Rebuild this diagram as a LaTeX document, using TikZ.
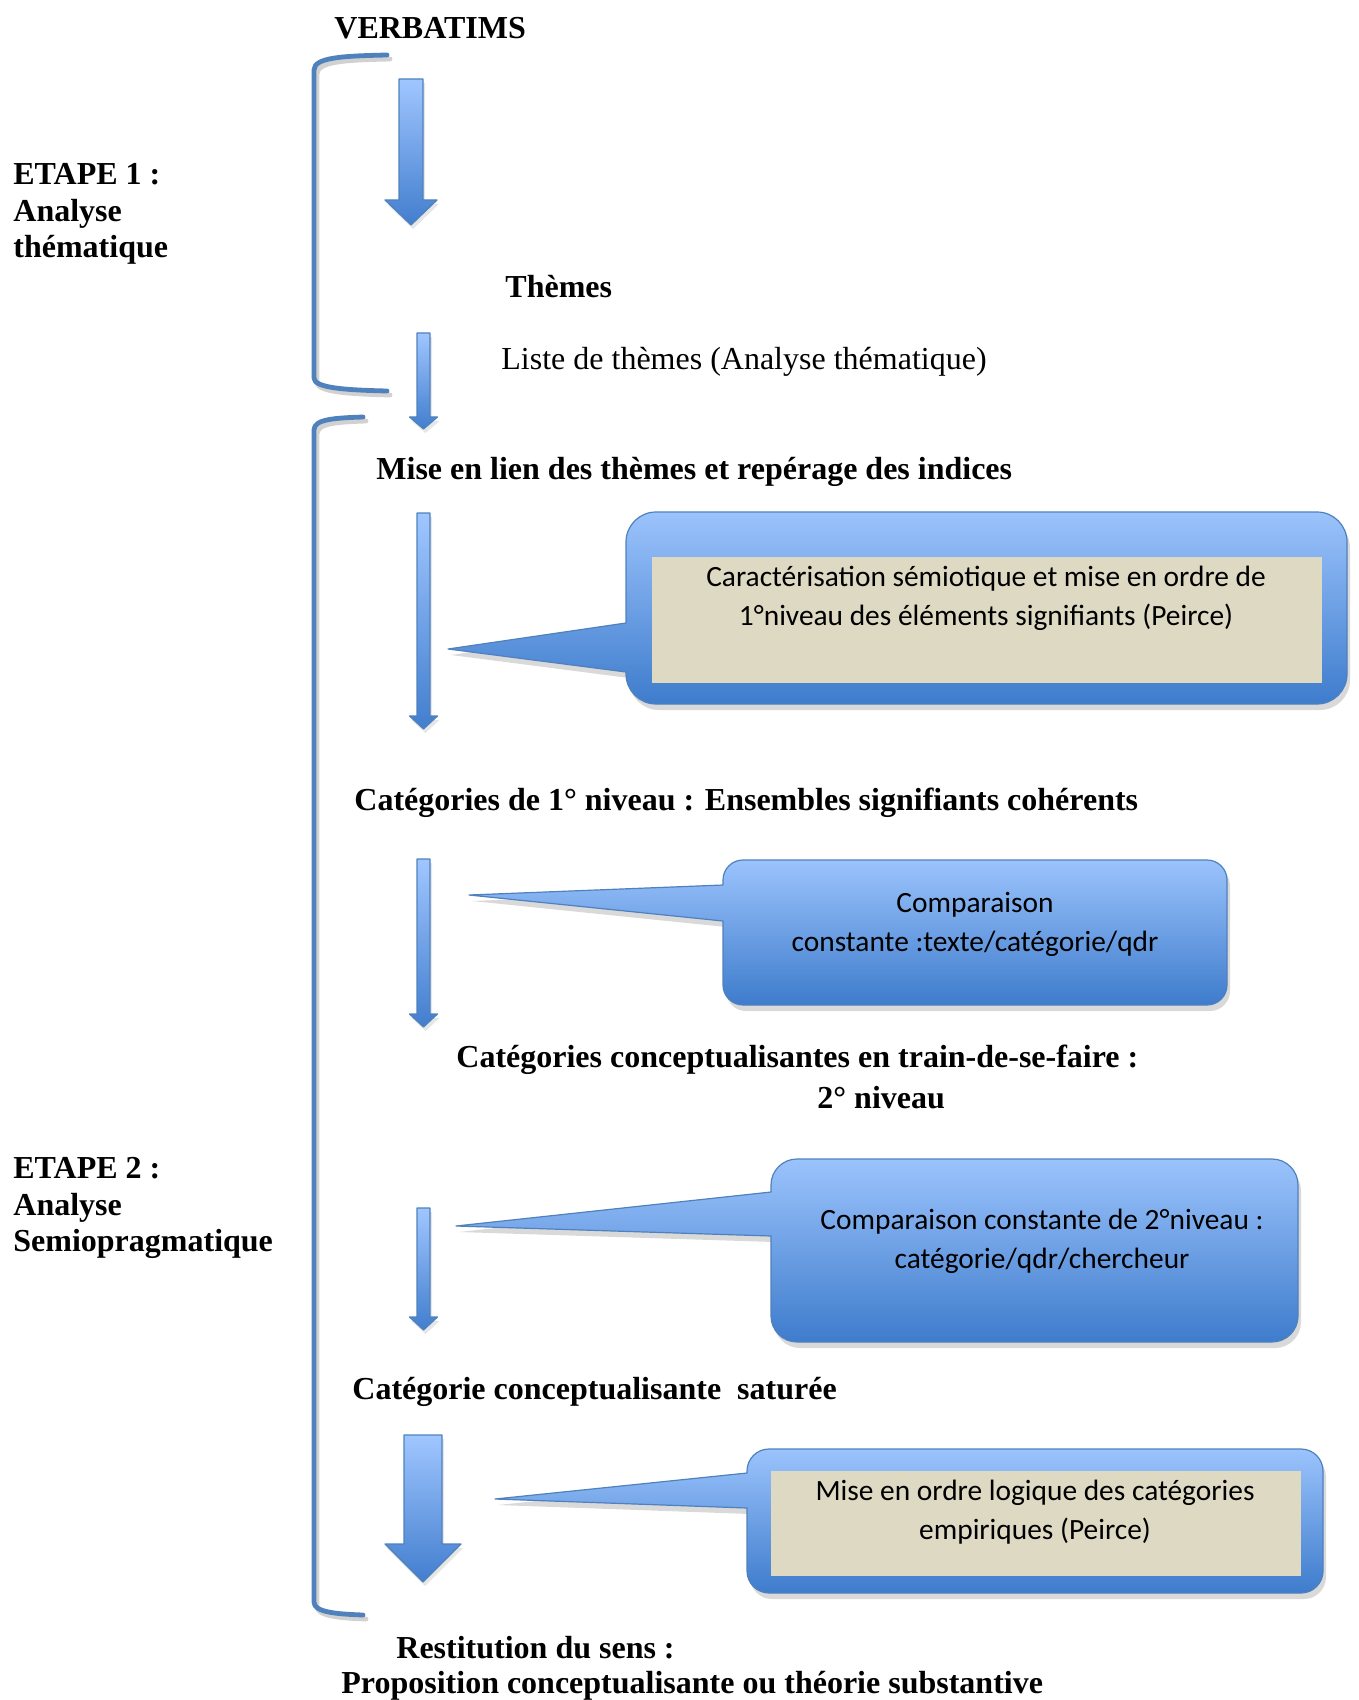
\documentclass[tikz,border=0pt]{standalone}
\usepackage{fontspec}
\setmainfont{Liberation Serif}
\newfontfamily\calibri{Carlito}
\usetikzlibrary{shadows}

\definecolor{brk}{RGB}{79,129,189}
\definecolor{flhaut}{RGB}{160,198,255}
\definecolor{flbas}{RGB}{66,126,206}
\definecolor{bhaut}{RGB}{155,195,252}
\definecolor{bbas}{RGB}{62,124,204}
\definecolor{beige}{RGB}{221,217,195}

\begin{document}
\begin{tikzpicture}[x=0.5pt, y=-0.5pt, line join=round,
    titre/.style={font=\bfseries\fontsize{16}{18.4}\selectfont, inner sep=0pt, anchor=west, align=left},
    ligne/.style={font=\fontsize{16}{18.4}\selectfont, inner sep=0pt, anchor=west},
    texte/.style={font=\calibri\fontsize{14.7}{19.5}\selectfont, align=center, inner sep=0pt},
    bulle/.style={draw=brk, line width=0.6pt, top color=bhaut, bottom color=bbas,
      drop shadow={opacity=0.3, shadow xshift=1.5pt, shadow yshift=-3pt}},
    fleche/.style={draw=brk, line width=0.6pt, top color=flhaut, bottom color=flbas,
      drop shadow={opacity=0.2, shadow xshift=1pt, shadow yshift=-2pt}},
    crochet/.style={draw=brk, line width=2.4pt, line cap=round},
    ombre/.style={draw=black, opacity=0.18, line width=2.4pt, line cap=round, xshift=1.5pt, yshift=-2pt}]
  \useasboundingbox (0,0) rectangle (1358,1700);

  % crochets des deux etapes
  \foreach \s in {ombre, crochet} {
    \draw[\s] (387,55) .. controls (345,56) and (314,57) .. (314,70) -- (314,378)
      .. controls (314,388) and (345,390) .. (387,391);
    \draw[\s] (363,417) .. controls (335,418) and (314,419) .. (314,430) -- (314,1602)
      .. controls (314,1612) and (335,1614) .. (363,1615);
  }

  % fleches (centre, demi-corps, demi-tete, haut, col, pointe)
  \foreach \x/\w/\hw/\t/\n/\p in {411/12/26/79/200/225, 423.5/6.5/14/333/417/429,
      423.5/6.5/14/513/716/729, 423.5/6.5/14/859/1014/1027,
      423.5/6.5/14/1208/1317/1330, 423/19/38/1435/1544/1582}
    \draw[fleche] (\x-\w,\t) -- (\x+\w,\t) -- (\x+\w,\n) -- (\x+\hw,\n) -- (\x,\p)
      -- (\x-\hw,\n) -- (\x-\w,\n) -- cycle;

  % bulles (gauche, droite, haut, bas, pointe x/y, base pointe, rayon)
  \foreach \g/\d/\h/\b/\px/\py/\pa/\pb/\r in {626/1347/512/704/448/649/623/672/15,
      723/1227/860/1005/469/895/885/921/10, 771/1298/1159/1342/456/1226/1192/1236/13,
      747/1323/1449/1593/495/1499/1473/1508/11}
    \draw[bulle] ({(\g+\d)/2},\h) [rounded corners=\r pt] -- (\d,\h) -- (\d,\b) -- (\g,\b)
      [sharp corners] -- (\g,\pb) -- (\px,\py) -- (\g,\pa)
      [rounded corners=\r pt] -- (\g,\h) -- cycle;
  \fill[beige] (652,557) rectangle (1322,683);
  \fill[beige] (771,1471) rectangle (1301,1576);

  \node[texte] (b1) at (986,598) {Caractérisation sémiotique et mise en ordre de\\1°niveau des éléments signifiants (Peirce)};
  \node[texte] (b2) at (975,924) {Comparaison\\constante :texte/catégorie/qdr};
  \node[texte] (b3) at (1042,1241) {Comparaison constante de 2°niveau :\\catégorie/qdr/chercheur};
  \node[texte] (b4) at (1035,1512) {Mise en ordre logique des catégories\\empiriques (Peirce)};

  \node[titre] (verb) at (334,28) {VERBATIMS};
  \node[titre] (etape1) at (13,214) {ETAPE 1 :\\Analyse\\thématique};
  \node[titre] (etape2) at (13,1208) {ETAPE 2 :\\Analyse\\Semiopragmatique};
  \node[titre] (themes) at (505,287) {Thèmes};
  \node[ligne] (liste) at (501,362) {Liste de thèmes (Analyse thématique)};
  \node[titre] (lien) at (376,472) {Mise en lien des thèmes et repérage des indices};
  \node[titre] (cat1) at (354,803) {Catégories de 1° niveau : Ensembles signifiants cohérents};
  \node[titre] (catconc) at (456,1060) {Catégories conceptualisantes en train-de-se-faire :};
  \node[titre] (niv2) at (817,1098) {2° niveau};
  \node[titre] (catsat) at (352,1392) {Catégorie conceptualisante\ \ saturée};
  \node[titre] (restit) at (396,1648) {Restitution du sens :};
  \node[titre] (propos) at (341,1686) {Proposition conceptualisante ou théorie substantive};
\end{tikzpicture}
\end{document}
